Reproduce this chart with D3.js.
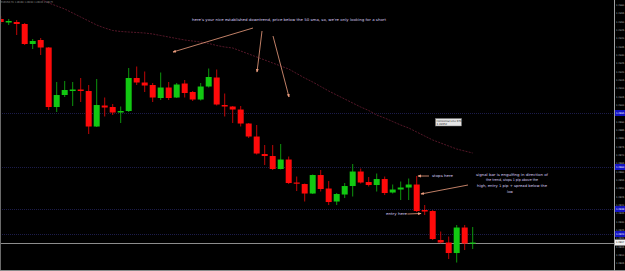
<!DOCTYPE html>
<html>
<head>
<meta charset="utf-8">
<title>EURUSD H1 short setup</title>
<script src="https://d3js.org/d3.v7.min.js"></script>
<style>
  body { margin: 0; background: #000; }
  svg { display: block; }
  .tick-label { font-family: "DejaVu Sans", sans-serif; font-size: 2.4px; fill: #b4b4b4; }
  .note { font-family: "DejaVu Sans", sans-serif; font-size: 3.6px; fill: #d6c8f2; }
</style>
</head>
<body>
<div id="chart"></div>
<script>
// candle data, one entry per H1 bar
var opens  = [1.29516,1.29495,1.29498,1.29486,1.29366,1.29390,1.29345,1.28988,1.29060,1.29084,
              1.29093,1.29084,1.28871,1.28997,1.28988,1.28955,1.28964,1.29162,1.29135,1.29120,
              1.29042,1.29105,1.29045,1.29129,1.29078,1.29033,1.29111,1.29165,1.29000,1.28991,
              1.28973,1.28889,1.28811,1.28706,1.28694,1.28616,1.28673,1.28535,1.28526,1.28469,
              1.28580,1.28499,1.28421,1.28463,1.28514,1.28601,1.28538,1.28520,1.28556,1.28475,
              1.28493,1.28505,1.28523,1.28370,1.28364,1.28190,1.28175,1.28112,1.28265,1.28169];
var highs  = [1.29534,1.29516,1.29510,1.29492,1.29396,1.29402,1.29348,1.29138,1.29144,1.29138,
              1.29162,1.29120,1.29156,1.29045,1.29006,1.28991,1.29222,1.29231,1.29201,1.29132,
              1.29195,1.29138,1.29132,1.29150,1.29084,1.29132,1.29219,1.29213,1.29069,1.28994,
              1.28994,1.28892,1.28880,1.28760,1.28760,1.28766,1.28691,1.28571,1.28529,1.28583,
              1.28610,1.28544,1.28472,1.28532,1.28646,1.28619,1.28568,1.28589,1.28571,1.28523,
              1.28541,1.28559,1.28574,1.28400,1.28370,1.28241,1.28211,1.28280,1.28280,1.28268];
var lows   = [1.29486,1.29480,1.29420,1.29360,1.29336,1.29300,1.28970,1.28958,1.29048,1.28994,
              1.29018,1.28826,1.28868,1.28931,1.28940,1.28892,1.28958,1.29120,1.29078,1.29018,
              1.29030,1.29030,1.29042,1.29045,1.29024,1.29027,1.29105,1.28997,1.28931,1.28892,
              1.28871,1.28802,1.28703,1.28640,1.28610,1.28613,1.28526,1.28484,1.28421,1.28466,
              1.28481,1.28400,1.28400,1.28442,1.28451,1.28529,1.28511,1.28481,1.28460,1.28469,
              1.28430,1.28430,1.28358,1.28340,1.28190,1.28169,1.28076,1.28055,1.28130,1.28136];
var closes = [1.29498,1.29504,1.29486,1.29366,1.29384,1.29345,1.28988,1.29060,1.29090,1.29093,
              1.29084,1.28871,1.29000,1.28985,1.28955,1.28964,1.29162,1.29135,1.29117,1.29045,
              1.29105,1.29042,1.29123,1.29072,1.29033,1.29111,1.29168,1.29003,1.28991,1.28973,
              1.28889,1.28811,1.28709,1.28694,1.28616,1.28673,1.28532,1.28529,1.28469,1.28580,
              1.28496,1.28418,1.28466,1.28514,1.28601,1.28535,1.28520,1.28556,1.28472,1.28493,
              1.28505,1.28523,1.28364,1.28361,1.28196,1.28175,1.28112,1.28265,1.28169,1.28175];

// 50 sma
var sma50 = [null,null,null,null,1.29654,1.29636,1.29612,1.29594,1.29576,1.29552,
             1.29528,1.29504,1.29480,1.29462,1.29447,1.29441,1.29438,1.29435,1.29432,1.29426,
             1.29417,1.29408,1.29399,1.29390,1.29384,1.29378,1.29369,1.29357,1.29348,1.29342,
             1.29324,1.29306,1.29288,1.29270,1.29252,1.29234,1.29216,1.29189,1.29162,1.29138,
             1.29111,1.29084,1.29060,1.29036,1.29012,1.28988,1.28967,1.28940,1.28922,1.28901,
             1.28880,1.28862,1.28838,1.28814,1.28790,1.28772,1.28754,1.28736,1.28724,1.28712];

// horizontal lines drawn on the chart
var hLines = [1.28952, 1.28628, 1.28376, 1.28226];

// price axis
var priceTicks = d3.range(1, 33).map(k => 1.2800 + k * 0.0005);

var width = 625, height = 271;
var plotRight = 614, plotBottom = 270;

var x = d3.scaleLinear().domain([0, 59]).range([0.7, 472.7]);
var y = d3.scaleLinear().domain([1.2800, 1.2960]).range([271.7, 5]);

var svg = d3.select("#chart").append("svg")
    .attr("width", width)
    .attr("height", height);

svg.append("rect").attr("width", width).attr("height", height).attr("fill", "#000");

var defs = svg.append("defs");
defs.append("clipPath").attr("id", "plot")
  .append("rect").attr("x", 0).attr("y", 0).attr("width", plotRight).attr("height", plotBottom);
defs.append("marker")
    .attr("id", "head")
    .attr("viewBox", "0 0 6 6")
    .attr("refX", 5).attr("refY", 3)
    .attr("markerUnits", "userSpaceOnUse")
    .attr("markerWidth", 3.5).attr("markerHeight", 3.5)
    .attr("orient", "auto")
  .append("path").attr("d", "M0,0.5 L6,3 L0,5.5 Z").attr("fill", "#f0a080");

var plot = svg.append("g").attr("clip-path", "url(#plot)");

// horizontal dotted lines
plot.selectAll(".hline").data(hLines).enter().append("line")
    .attr("x1", 0).attr("x2", plotRight)
    .attr("y1", d => Math.round(y(d)) + 0.5).attr("y2", d => Math.round(y(d)) + 0.5)
    .attr("stroke", "#1c1c4a").attr("stroke-width", 1).attr("stroke-dasharray", "1,1");

// bid line
var last = closes[closes.length - 1];
plot.append("line")
    .attr("x1", 0).attr("x2", plotRight)
    .attr("y1", Math.round(y(last)) + 0.5).attr("y2", Math.round(y(last)) + 0.5)
    .attr("stroke", "#8c8c8c").attr("stroke-width", 1);

// sma
var smaLine = d3.line()
    .defined(d => d != null)
    .x((d, i) => x(i))
    .y(d => y(d));
plot.append("path").datum(sma50)
    .attr("d", smaLine)
    .attr("fill", "none")
    .attr("stroke", "#5e1a2c")
    .attr("stroke-width", 0.9)
    .attr("stroke-dasharray", "2,1.2");

// candles
var candles = d3.range(opens.length);
var col = i => closes[i] >= opens[i] ? "#12c812" : "#ff0a0a";

plot.selectAll(".wick").data(candles).enter().append("line")
    .attr("x1", i => x(i)).attr("x2", i => x(i))
    .attr("y1", i => y(highs[i])).attr("y2", i => y(lows[i]))
    .attr("stroke", col).attr("stroke-opacity", 0.75).attr("stroke-width", 1);

plot.selectAll(".body").data(candles).enter().append("rect")
    .attr("x", i => x(i) - 3)
    .attr("width", 6)
    .attr("y", i => y(Math.max(opens[i], closes[i])))
    .attr("height", i => Math.max(1.2, Math.abs(y(opens[i]) - y(closes[i]))))
    .attr("fill", col);

// frame
svg.append("line").attr("x1", 0.5).attr("x2", 0.5).attr("y1", 0).attr("y2", plotBottom)
    .attr("stroke", "#6a6a6a");
svg.append("line").attr("x1", 0).attr("x2", width).attr("y1", plotBottom + 0.5).attr("y2", plotBottom + 0.5)
    .attr("stroke", "#8a8a8a");
svg.append("line").attr("x1", plotRight + 0.5).attr("x2", plotRight + 0.5).attr("y1", 0).attr("y2", height)
    .attr("stroke", "#a0a0a0");

// price labels
svg.selectAll(".tick-label").data(priceTicks).enter().append("text")
    .attr("class", "tick-label")
    .attr("x", 616)
    .attr("y", d => y(d) + 0.9)
    .text(d => d.toFixed(4));

// line labels on the axis
svg.selectAll(".hlabel").data(hLines).enter().append("rect")
    .attr("x", 615).attr("width", 10)
    .attr("y", d => y(d) - 3).attr("height", 6)
    .attr("fill", "#1414c4");
svg.selectAll(".hlabel-text").data(hLines).enter().append("text")
    .attr("class", "tick-label").style("fill", "#fff")
    .attr("x", 616).attr("y", d => y(d) + 0.9)
    .text(d => d.toFixed(4));
svg.append("rect").attr("x", 615).attr("width", 10)
    .attr("y", y(last) - 3).attr("height", 6).attr("fill", "#f2f2f2");
svg.append("text").attr("class", "tick-label").style("fill", "#000")
    .attr("x", 616).attr("y", y(last) + 0.9)
    .text(last.toFixed(4));

// header
svg.append("text").attr("class", "tick-label").style("fill", "#8a8a8a").style("font-size", "2.8px")
    .attr("x", 1).attr("y", 3)
    .attr("textLength", 52).attr("lengthAdjust", "spacingAndGlyphs")
    .text("EURUSD,H1  1.28184 1.28190 1.28163 1.28175");

// tooltip of the horizontal line
svg.append("rect").attr("x", 435.5).attr("y", 118.5).attr("width", 26).attr("height", 7.5)
    .attr("fill", "#e6e6e6").attr("stroke", "#777").attr("stroke-width", 0.5);
svg.append("text").attr("class", "tick-label").style("fill", "#222").style("font-size", "2.6px")
    .attr("x", 436.5).attr("y", 121.5).text("Horizontal Line 9717");
svg.append("text").attr("class", "tick-label").style("fill", "#222").style("font-size", "2.6px")
    .attr("x", 436.5).attr("y", 124.8).text(hLines[0].toFixed(5));

// notes
var notes = [
  { t: "here's your nice established downtrend, price below the 50 sma, so, we're only looking for a short", x: 192, y: 20.5, w: 194 },
  { t: "stops here", x: 432, y: 177.3, w: 21 },
  { t: "signal bar is engulfing in direction of", x: 476, y: 175.5, w: 72 },
  { t: "the trend, stops 1 pip above the", x: 486, y: 181.3, w: 52 },
  { t: "high, entry 1 pip + spread below the", x: 477, y: 187.2, w: 70 },
  { t: "low", x: 507, y: 193, w: 6 },
  { t: "entry here", x: 386, y: 215.3, w: 21 }
];
svg.selectAll(".note").data(notes).enter().append("text")
    .attr("class", "note")
    .attr("x", d => d.x).attr("y", d => d.y)
    .attr("textLength", d => d.w).attr("lengthAdjust", "spacingAndGlyphs")
    .text(d => d.t);

var arrows = [
  [253, 28, 173, 52],
  [262, 31, 257, 72],
  [273, 36, 289, 97],
  [429, 176, 418, 176],
  [468, 185, 421, 194],
  [407.5, 214, 421, 213.5]
];
svg.selectAll(".arrow").data(arrows).enter().append("line")
    .attr("x1", d => d[0]).attr("y1", d => d[1])
    .attr("x2", d => d[2]).attr("y2", d => d[3])
    .attr("stroke", "#f0a080").attr("stroke-width", 0.8)
    .attr("marker-end", "url(#head)");
</script>
</body>
</html>
